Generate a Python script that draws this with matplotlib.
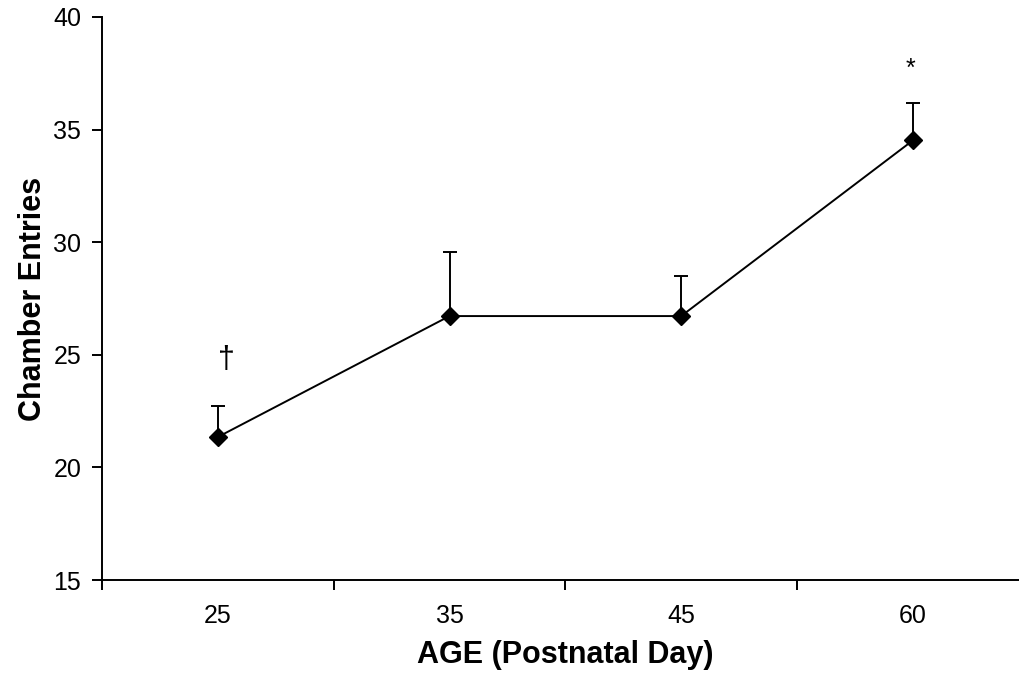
import matplotlib.pyplot as plt

plt.rcParams['font.family'] = ['Liberation Sans', 'DejaVu Sans']

ages = ['25', '35', '45', '60']
entries = [21.35, 26.72, 26.72, 34.52]
sem = [1.38, 2.84, 1.78, 1.68]
marks = ['\u2020', '', '', '*']

fig = plt.figure(figsize=(10.19, 6.78), dpi=100)
ax = fig.add_axes([102 / 1019, 1 - 580 / 678, 926.7 / 1019, 563 / 678])

x = list(range(len(ages)))
ax.errorbar(x, entries, yerr=[[0] * len(sem), sem], color='black', lw=1.4,
            marker='D', markersize=9.5, capsize=5, capthick=1.4, elinewidth=1.4)

# significance marks above the error bars
for i, m in enumerate(marks):
    if m == '\u2020':
        ax.text(x[i] + 0.035, entries[i] + sem[i] + 2.05, m, ha='center', va='center', fontsize=22)
    elif m:
        ax.text(x[i] - 0.01, entries[i] + sem[i] + 1.5, m, ha='center', va='center', fontsize=18)

ax.set_xlim(-0.5, 3.5)
ax.set_ylim(15, 40)
ax.set_yticks([15, 20, 25, 30, 35, 40])
ax.set_xticks([-0.5, 0.5, 1.5, 2.5])
ax.set_xticklabels([])
ax.set_xticks(x, minor=True)
ax.set_xticklabels(ages, minor=True)
ax.tick_params(axis='x', which='minor', length=0, pad=17, labelsize=18)
ax.tick_params(axis='x', which='major', length=7, width=1.4)
ax.tick_params(axis='y', length=7, width=1.4, labelsize=18, pad=8)

for s in ['top', 'right']:
    ax.spines[s].set_visible(False)
for s in ['left', 'bottom']:
    ax.spines[s].set_linewidth(1.4)

ax.set_ylabel('Chamber Entries', fontsize=22, fontweight='bold', labelpad=4)
ax.set_xlabel('AGE (Postnatal Day)', fontsize=22, fontweight='bold', labelpad=9)

fig.savefig('out.png', dpi=100)
